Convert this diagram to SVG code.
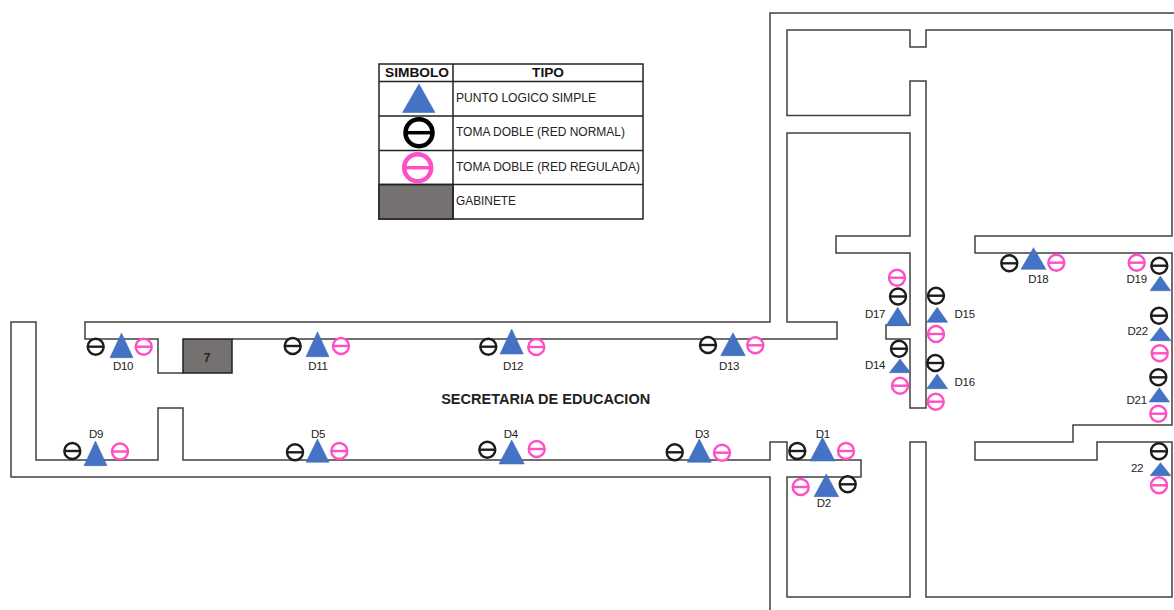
<svg xmlns="http://www.w3.org/2000/svg" width="1174" height="610" viewBox="0 0 1174 610">
<style>
.w{fill:none;stroke:#404040;stroke-width:1.5}
.t{fill:#4472c4;stroke:#3a64ae;stroke-width:.5}
.b,.p{fill:#fff;stroke-width:2.4}
.b{stroke:#1c1c1c}.p{stroke:#ff4fc4}
text{font-family:"Liberation Sans",Arial,sans-serif;fill:#222}
.l{font-size:11.500px;text-anchor:middle;letter-spacing:-.3px}
.h{font-size:12.500px;font-weight:bold;fill:#111;text-anchor:middle}
.d{font-size:12px}
.g{fill:#767171;stroke:#222;stroke-width:1.500}
.c{fill:none;stroke:#222;stroke-width:1.500}
</style>
<defs>
<g id="bk"><circle class="b" r="8"/><line class="b" x1="-8" x2="8"/></g>
<g id="pk"><circle class="p" r="8"/><line class="p" x1="-8" x2="8"/></g>
</defs>
<g id="connectors">
<path class="w" d="M1174 13H770V322H85V339H158V373H183M232 339H837V322H787V133H910V236H836V253H910V325H886V339H910V408H926V81H910V115.500H787V30H910V47H926V30H1172V236H975V253H1172V425H1073V442H975V460H1097V442H1172V597H926V442H910V597H787V477H861V460H787V442H770V460H183V408H158V460H36V322H11V477H770V610"/>
</g>
<g id="gabinete-7"><rect class="g" x="183" y="339" width="49" height="34"/><text x="207" y="362" font-size="12" font-weight="bold" text-anchor="middle" fill="#111">7</text></g>
<g id="legend">
<rect class="c" x="379" y="64" width="264" height="155"/>
<rect class="g" x="379" y="184.500" width="74" height="34.500"/>
<path class="c" d="M379 81.500H643M379 116H643M379 150.500H643M379 184.500H643M453 64V219"/>
<text class="h" x="417" y="77" textLength="64" lengthAdjust="spacingAndGlyphs">SIMBOLO</text>
<text class="h" x="548" y="77" textLength="32" lengthAdjust="spacingAndGlyphs">TIPO</text>
<polygon class="t" points="419,84 402.500,112.500 435,112.500"/>
<g transform="translate(419 132.700)"><circle r="13.500" fill="#fff" stroke="#000" stroke-width="4.500"/><line x1="-13.500" x2="13.500" stroke="#000" stroke-width="3.500"/></g>
<g transform="translate(417.700 167.700)"><circle r="13.500" fill="#fff" stroke="#ff4fc4" stroke-width="4.500"/><line x1="-13.500" x2="13.500" stroke="#ff4fc4" stroke-width="3.500"/></g>
<text class="d" x="456" y="102" textLength="140" lengthAdjust="spacingAndGlyphs">PUNTO LOGICO SIMPLE</text>
<text class="d" x="456" y="136" textLength="169" lengthAdjust="spacingAndGlyphs">TOMA DOBLE (RED NORMAL)</text>
<text class="d" x="456" y="171" textLength="184" lengthAdjust="spacingAndGlyphs">TOMA DOBLE (RED REGULADA)</text>
<text class="d" x="456" y="205" textLength="60" lengthAdjust="spacingAndGlyphs">GABINETE</text>
</g>
<text id="title" x="545.700" y="404" font-size="14.500" font-weight="bold" text-anchor="middle" textLength="209" lengthAdjust="spacingAndGlyphs" fill="#1a2238">SECRETARIA DE EDUCACION</text>
<g id="D10"><use href="#bk" x="95.700" y="346.700"/><polygon class="t" points="121.500,333 110,357.700 133,357.700"/><use href="#pk" x="143.700" y="346.700"/><text class="l" x="123" y="369.500">D10</text></g>
<g id="D11"><use href="#bk" x="292.700" y="346"/><polygon class="t" points="317.500,331.700 306,356.700 329,356.700"/><use href="#pk" x="341" y="346"/><text class="l" x="318" y="369.500">D11</text></g>
<g id="D12"><use href="#bk" x="488.300" y="346.700"/><polygon class="t" points="511.700,329 500,354 523.300,354"/><use href="#pk" x="536.300" y="347"/><text class="l" x="513" y="369.500">D12</text></g>
<g id="D13"><use href="#bk" x="708" y="345"/><polygon class="t" points="733,332.700 720.700,355.700 745.300,355.700"/><use href="#pk" x="755.300" y="345.300"/><text class="l" x="729" y="369.500">D13</text></g>
<g id="D9"><use href="#bk" x="72.300" y="451"/><polygon class="t" points="95.500,441 84,465.700 107,465.700"/><use href="#pk" x="120" y="451.500"/><text class="l" x="96" y="437.500">D9</text></g>
<g id="D5"><use href="#bk" x="295" y="452.300"/><polygon class="t" points="317.500,439 306,462.300 329,462.300"/><use href="#pk" x="339.300" y="451"/><text class="l" x="318" y="437.500">D5</text></g>
<g id="D4"><use href="#bk" x="487.300" y="449.700"/><polygon class="t" points="511.700,440 499,464 524.300,464"/><use href="#pk" x="536.700" y="449"/><text class="l" x="510.700" y="437.500">D4</text></g>
<g id="D3"><use href="#bk" x="674.700" y="452.300"/><polygon class="t" points="699.300,439 687.300,462.300 711.300,462.300"/><use href="#pk" x="722" y="452.700"/><text class="l" x="702" y="437.500">D3</text></g>
<g id="D1"><use href="#bk" x="797.300" y="451"/><polygon class="t" points="822.500,437.300 810,461 835,461"/><use href="#pk" x="846" y="451"/><text class="l" x="822.700" y="437.500">D1</text></g>
<g id="D2"><use href="#pk" x="800.700" y="487"/><polygon class="t" points="826.300,474 814,496.700 838.700,496.700"/><use href="#bk" x="847.700" y="484.300"/><text class="l" x="823.700" y="506.500">D2</text></g>
<g id="D14"><use href="#bk" x="899" y="348.700"/><polygon class="t" points="900,359 889.300,372.700 910.700,372.700"/><use href="#pk" x="900" y="385.700"/><text class="l" x="875" y="368.500">D14</text></g>
<g id="D16"><use href="#bk" x="935.300" y="363"/><polygon class="t" points="937.200,374 926.700,388.700 947.700,388.700"/><use href="#pk" x="935.700" y="401.700"/><text class="l" x="964.700" y="386">D16</text></g>
<g id="D15"><use href="#bk" x="936" y="295.700"/><polygon class="t" points="937.200,307.300 926.700,322.300 947.700,322.300"/><use href="#pk" x="936" y="334"/><text class="l" x="964.700" y="317.500">D15</text></g>
<g id="D17"><use href="#pk" x="897" y="277.700"/><use href="#bk" x="898" y="296.500"/><polygon class="t" points="897.700,307.300 886,325.700 909.300,325.700"/><text class="l" x="875" y="317.500">D17</text></g>
<g id="D18"><use href="#bk" x="1009.300" y="263.300"/><polygon class="t" points="1033.500,247.700 1021,269.300 1046,269.300"/><use href="#pk" x="1056.300" y="262.700"/><text class="l" x="1038.300" y="283">D18</text></g>
<g id="D19"><use href="#pk" x="1136.700" y="262.700"/><use href="#bk" x="1159.300" y="265.700"/><polygon class="t" points="1160.300,276 1150,290.700 1170.700,290.700"/><text class="l" x="1136.700" y="283">D19</text></g>
<g id="D22"><use href="#bk" x="1159" y="315.700"/><polygon class="t" points="1160.500,327.300 1150,340.700 1171,340.700"/><use href="#pk" x="1159.700" y="353.300"/><text class="l" x="1137.700" y="334.500">D22</text></g>
<g id="D21"><use href="#bk" x="1158.300" y="377.300"/><polygon class="t" points="1159.300,387.700 1149,402 1169.700,402"/><use href="#pk" x="1158.300" y="413.700"/><text class="l" x="1136.700" y="403.500">D21</text></g>
<g id="D-22"><use href="#bk" x="1159" y="451.300"/><polygon class="t" points="1160.500,462.700 1150,475.700 1171,475.700"/><use href="#pk" x="1159" y="485.300"/><text class="l" x="1137" y="472">22</text></g>
</svg>
